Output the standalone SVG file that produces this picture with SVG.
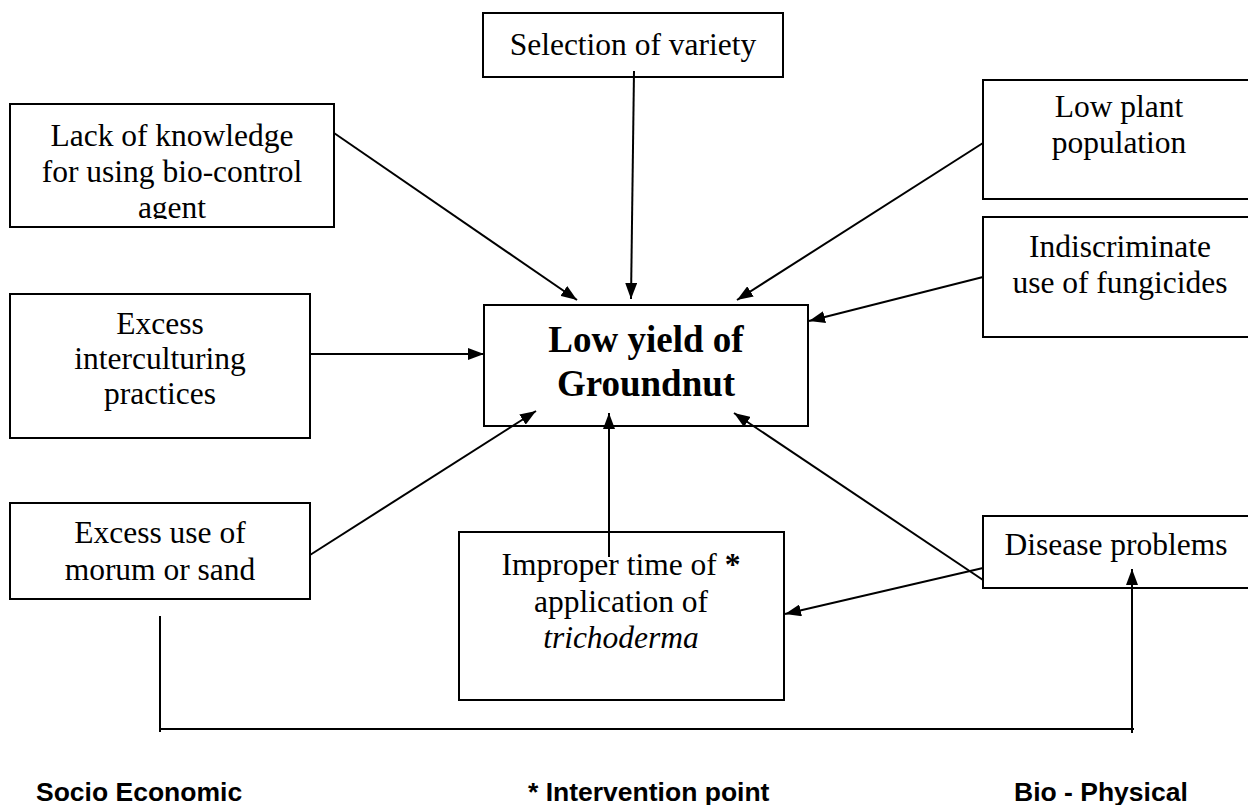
<svg xmlns="http://www.w3.org/2000/svg" width="1248" height="805" viewBox="0 0 1248 805">
<style>
.box{fill:#fff;stroke:#000;stroke-width:2}
.t{font-family:"Liberation Serif","Times New Roman",serif;font-size:31.5px;fill:#000;text-anchor:middle}
.tb{font-family:"Liberation Serif","Times New Roman",serif;font-size:37px;font-weight:bold;fill:#000;text-anchor:middle}
.lab{font-family:"Liberation Sans",Arial,sans-serif;font-size:26.5px;font-weight:bold;fill:#000}
.c{stroke:#000;stroke-width:2;fill:none}
</style>
<defs>
<marker id="ah" markerUnits="userSpaceOnUse" markerWidth="16" markerHeight="12" refX="16" refY="6" orient="auto">
<path d="M0,0 L16,6 L0,12 z" fill="#000"/>
</marker>
<clipPath id="clipLack"><rect x="10" y="104" width="324" height="115"/></clipPath>
</defs>
<rect width="1248" height="805" fill="#fff"/>

<g id="n-lack">
<rect class="box" x="10" y="104" width="324" height="123"/>
<g clip-path="url(#clipLack)">
<text class="t" x="172" y="146">Lack of knowledge</text>
<text class="t" x="172" y="182">for using bio-control</text>
<text class="t" x="172" y="218">agent</text>
</g>
</g>

<g id="n-selection">
<rect class="box" x="483" y="13" width="300" height="64"/>
<text class="t" x="633" y="55">Selection of variety</text>
</g>

<g id="n-lowplant">
<rect class="box" x="983" y="80" width="272" height="119"/>
<text class="t" x="1119" y="117">Low plant</text>
<text class="t" x="1119" y="153">population</text>
</g>

<g id="n-indiscriminate">
<rect class="box" x="983" y="217" width="272" height="120"/>
<text class="t" x="1120" y="257">Indiscriminate</text>
<text class="t" x="1120" y="293">use of fungicides</text>
</g>

<g id="n-central">
<rect class="box" x="484" y="305" width="324" height="121"/>
<text class="tb" x="646" y="352">Low yield of</text>
<text class="tb" x="646" y="396">Groundnut</text>
</g>

<g id="n-interculturing">
<rect class="box" x="10" y="294" width="300" height="144"/>
<text class="t" x="160" y="334">Excess</text>
<text class="t" x="160" y="369">interculturing</text>
<text class="t" x="160" y="404">practices</text>
</g>

<g id="n-morum">
<rect class="box" x="10" y="503" width="300" height="96"/>
<text class="t" x="160" y="543">Excess use of</text>
<text class="t" x="160" y="580">morum or sand</text>
</g>

<g id="n-improper">
<rect class="box" x="459" y="532" width="325" height="168"/>
<text class="t" x="621" y="575">Improper time of <tspan font-weight="bold">*</tspan></text>
<text class="t" x="621" y="612">application of</text>
<text class="t" x="621" y="648" font-style="italic">trichoderma</text>
</g>

<g id="n-disease">
<rect class="box" x="983" y="516" width="272" height="72"/>
<text class="t" x="1116" y="555">Disease problems</text>
</g>

<g id="connectors">
<line class="c" x1="334" y1="133" x2="577" y2="300" marker-end="url(#ah)"/>
<line class="c" x1="634" y1="71" x2="631" y2="299" marker-end="url(#ah)"/>
<line class="c" x1="983" y1="143" x2="737" y2="300" marker-end="url(#ah)"/>
<line class="c" x1="983" y1="277" x2="809" y2="321" marker-end="url(#ah)"/>
<line class="c" x1="310" y1="354" x2="484" y2="354" marker-end="url(#ah)"/>
<line class="c" x1="310" y1="555" x2="536" y2="411" marker-end="url(#ah)"/>
<line class="c" x1="609" y1="557" x2="609" y2="413" marker-end="url(#ah)"/>
<line class="c" x1="983" y1="580" x2="734" y2="413" marker-end="url(#ah)"/>
<line class="c" x1="983" y1="568" x2="785" y2="614" marker-end="url(#ah)"/>
<path class="c" d="M160,616 V732 M160,729 H1134"/>
<line class="c" x1="1132" y1="733" x2="1132" y2="569" marker-end="url(#ah)"/>
</g>

<g id="labels">
<text class="lab" x="36" y="801">Socio Economic</text>
<text class="lab" x="528" y="801">* Intervention point</text>
<text class="lab" x="1014" y="801">Bio - Physical</text>
</g>
</svg>
